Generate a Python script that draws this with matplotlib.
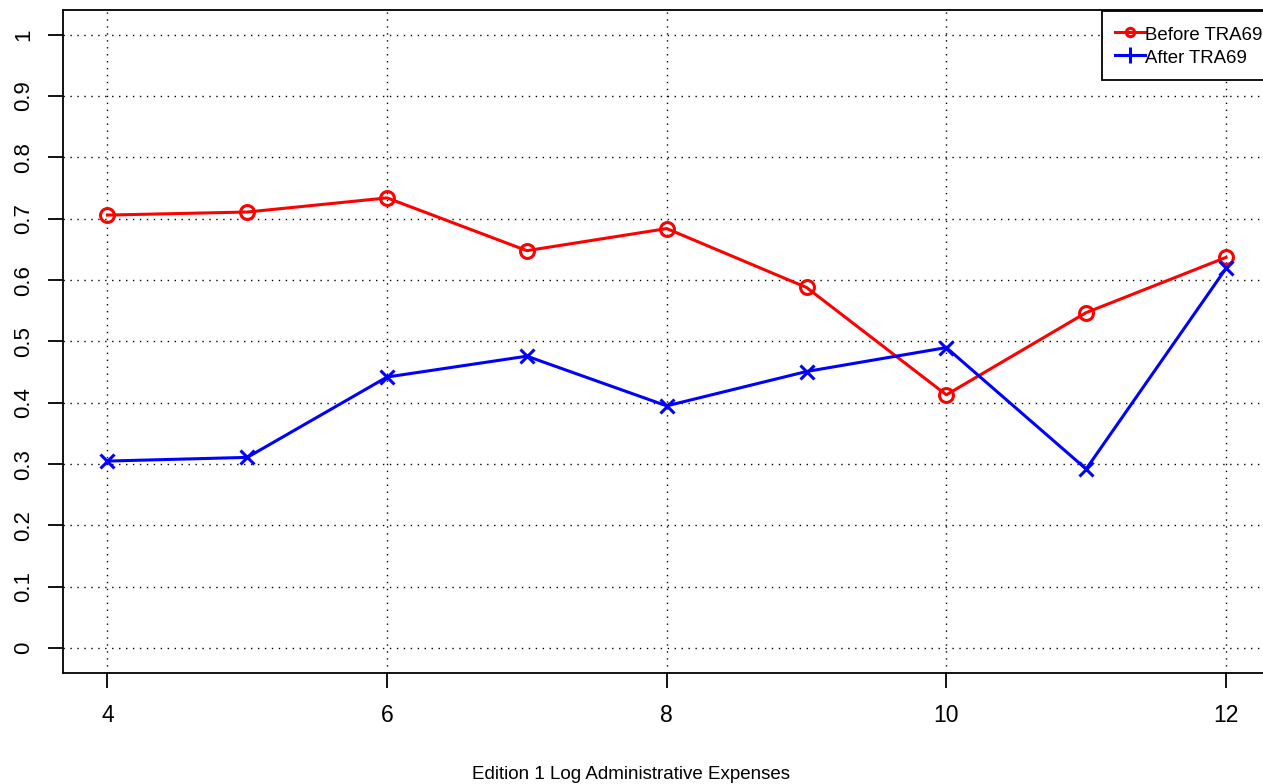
import matplotlib
matplotlib.use("Agg")
import matplotlib.pyplot as plt
from matplotlib.lines import Line2D

plt.rcParams['font.family'] = ['Liberation Sans', 'DejaVu Sans']

x = [4, 5, 6, 7, 8, 9, 10, 11, 12]
before = [0.706, 0.711, 0.734, 0.648, 0.684, 0.588, 0.413, 0.547, 0.637]
after = [0.305, 0.311, 0.442, 0.476, 0.395, 0.451, 0.490, 0.292, 0.619]
xticks = [4, 6, 8, 10, 12]
yticks = [0, 0.1, 0.2, 0.3, 0.4, 0.5, 0.6, 0.7, 0.8, 0.9, 1]
ytick_labels = ['0', '0.1', '0.2', '0.3', '0.4', '0.5', '0.6', '0.7', '0.8', '0.9', '1']

W, H = 1263, 784
fig = plt.figure(figsize=(W / 100, H / 100), dpi=100)
ax = fig.add_axes([62.7 / W, 1 - 672.7 / H, 1208 / W, 662.5 / H])

for v in xticks:
    ax.axvline(v, color='black', linestyle=(0, (1, 4)), linewidth=1.0, zorder=0)
for v in yticks:
    ax.axhline(v, color='black', linestyle=(0, (1, 4)), linewidth=1.0, zorder=0)

ax.plot(x, before, color='red', linewidth=2.2, marker='o', markersize=10,
        markerfacecolor='none', markeredgewidth=2.2)
ax.plot(x, after, color='blue', linewidth=2.2, marker='x', markersize=10.5,
        markeredgewidth=2.2)

ax.set_xlim(3.68, 12.32)
ax.set_ylim(-0.04, 1.04)
ax.set_xticks(xticks)
ax.set_xticklabels([str(v) for v in xticks], fontsize=16.5)
ax.set_yticks(yticks)
ax.set_yticklabels(ytick_labels, fontsize=16, rotation=90, va='center')
ax.tick_params(axis='both', direction='out', length=10.5, width=1.3)
ax.tick_params(axis='x', pad=12)
ax.tick_params(axis='y', pad=10)
for s in ax.spines.values():
    s.set_linewidth(1.3)

fig.text(0.5, 1 - 779 / H, 'Edition 1 Log Administrative Expenses', ha='center',
         va='baseline', fontsize=13.5)

handles = [
    Line2D([], [], color='red', linewidth=2.2, marker='o', markersize=6,
           markerfacecolor='none', markeredgewidth=2.2),
    Line2D([], [], color='blue', linewidth=2.2, marker='+', markersize=12,
           markeredgewidth=2.2),
]
leg = fig.legend(handles, ['Before TRA69', 'After TRA69'], loc='upper left',
                 bbox_to_anchor=(1101.7 / W, 1 - 10.7 / H), fontsize=13.4,
                 frameon=True, fancybox=False, edgecolor='black', framealpha=1,
                 borderpad=0.7, handlelength=1.6, handleheight=1.3,
                 handletextpad=0.0, labelspacing=0.16, borderaxespad=0)
leg.get_frame().set_linewidth(1.3)

fig.savefig('out.png', dpi=100)
